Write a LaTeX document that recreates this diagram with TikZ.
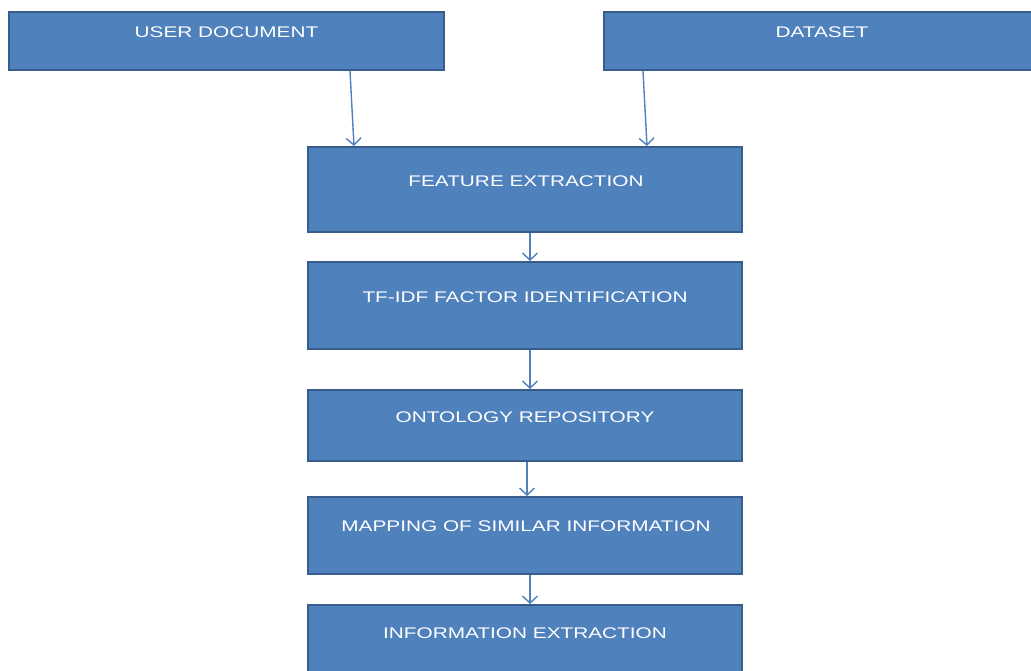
\documentclass[tikz,border=0pt]{standalone}
\usepackage{fontspec}
\usetikzlibrary{arrows.meta}
\newfontfamily\boxfont[FakeStretch=1.35]{Liberation Sans}
\definecolor{boxfill}{HTML}{4F81BD}
\definecolor{boxline}{HTML}{385D8A}
\definecolor{arrowc}{HTML}{4F81BD}
\tikzset{
  stepbox/.style={rectangle, draw=boxline, fill=boxfill, line width=2pt, inner sep=0pt},
  lbl/.style={text=white, font=\boxfont\fontsize{15.4}{18}\selectfont, inner sep=0pt, anchor=base},
  arr/.style={draw=arrowc, line width=1.4pt, -{Straight Barb[length=7pt,width=15pt,line width=1.4pt]}}
}
\begin{document}
\begin{tikzpicture}[x=1pt,y=-1pt]
\useasboundingbox (0,0) rectangle (1031,671);
\fill[white] (0,0) rectangle (1031,671);
\clip (0,0) rectangle (1031,671);
% boxes
\node[stepbox, minimum width=435pt, minimum height=58pt] (ud) at (226.5,41) {};
\node[stepbox, minimum width=436pt, minimum height=58pt] (ds) at (822,41) {};
\node[stepbox, minimum width=434pt, minimum height=85pt] (fe) at (525,189.5) {};
\node[stepbox, minimum width=434pt, minimum height=87pt] (tf) at (525,305.5) {};
\node[stepbox, minimum width=434pt, minimum height=71pt] (on) at (525,425.5) {};
\node[stepbox, minimum width=434pt, minimum height=77pt] (mp) at (525,535.5) {};
\node[stepbox, minimum width=434pt, minimum height=84pt] (ie) at (525,647) {};
% labels
\node[lbl] (udt) at (226.5,37.5) {USER DOCUMENT};
\node[lbl] (dst) at (822,37.5) {DATASET};
\node[lbl] (fet) at (526,186.5) {FEATURE EXTRACTION};
\node[lbl] (tft) at (525,302.5) {TF-IDF FACTOR IDENTIFICATION};
\node[lbl] (ont) at (525,422.5) {ONTOLOGY REPOSITORY};
\node[lbl] (mpt) at (526,531.5) {MAPPING OF SIMILAR INFORMATION};
\node[lbl] (iet) at (525,638.5) {INFORMATION EXTRACTION};
% connectors
\draw[arr] ([xshift=123.5pt]ud.south) -- ([xshift=-171pt]fe.north);
\draw[arr] ([xshift=-179pt]ds.south) -- ([xshift=122pt]fe.north);
\draw[arr] ([xshift=5pt]fe.south) -- ([xshift=5pt]tf.north);
\draw[arr] ([xshift=5pt]tf.south) -- ([xshift=5pt]on.north);
\draw[arr] ([xshift=2pt]on.south) -- ([xshift=2pt]mp.north);
\draw[arr] ([xshift=5pt]mp.south) -- ([xshift=5pt]ie.north);
\end{tikzpicture}
\end{document}
